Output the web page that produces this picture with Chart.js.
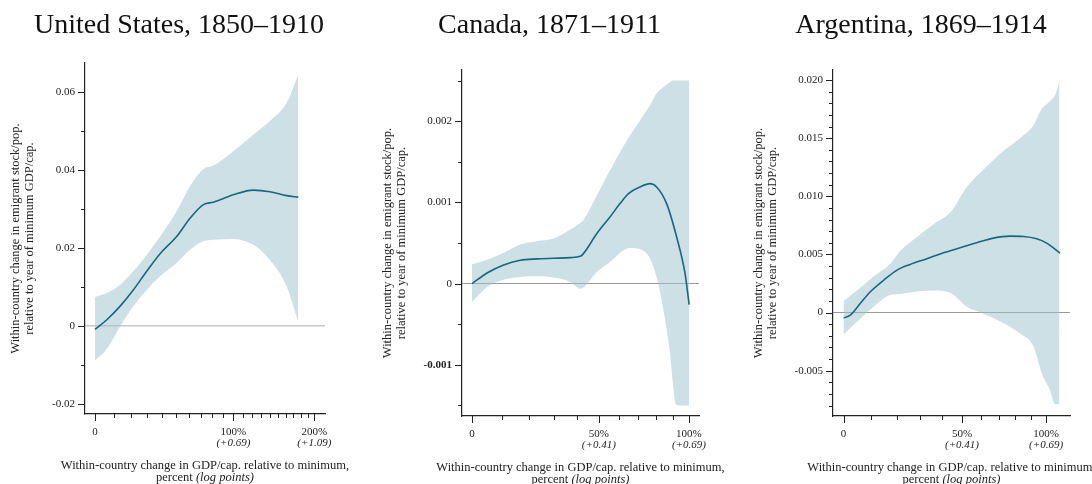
<!DOCTYPE html>
<html>
<head>
<meta charset="utf-8">
<title>Emigrant stock and GDP per capita</title>
<script src="https://cdn.jsdelivr.net/npm/chart.js@4.4.1/dist/chart.umd.min.js"></script>
<style>
  html, body { margin: 0; padding: 0; background: #fff; }
  body { width: 1092px; height: 484px; position: relative; overflow: hidden; }
  .panel { position: absolute; top: 0; height: 484px; }
</style>
</head>
<body>
<div class="panel" style="left:0px;width:358px"><canvas id="usChart"></canvas></div>
<div class="panel" style="left:367px;width:365px"><canvas id="caChart"></canvas></div>
<div class="panel" style="left:750px;width:342px"><canvas id="arChart"></canvas></div>
<script>
const serif = "'Liberation Serif', 'DejaVu Serif', serif";

// x values are log points, ln(1 + change in GDP/cap.)

// United States, 1850-1910
const usX   = [0, 0.058, 0.125, 0.192, 0.259, 0.326, 0.409, 0.476, 0.543, 0.593, 0.693, 0.793, 0.876, 0.960, 1.018];
const usFit = [-0.0009, 0.0015, 0.0050, 0.0092, 0.0140, 0.0185, 0.0229, 0.0276, 0.0311, 0.0317, 0.0336, 0.0348, 0.0344, 0.0334, 0.0330];
const usHi  = [0.0074, 0.0084, 0.0105, 0.0140, 0.0182, 0.0229, 0.0294, 0.0358, 0.0402, 0.0411, 0.0448, 0.0490, 0.0525, 0.0572, 0.0644];
const usLo  = [-0.0089, -0.0060, -0.0002, 0.0050, 0.0092, 0.0127, 0.0161, 0.0195, 0.0217, 0.0221, 0.0223, 0.0208, 0.0169, 0.0101, 0.0011];

// Canada, 1871-1911
const caX   = [0, 0.048, 0.101, 0.154, 0.207, 0.261, 0.314, 0.346, 0.356, 0.399, 0.441, 0.473, 0.500, 0.537, 0.569, 0.590, 0.622, 0.654, 0.681, 0.694];
const caFit = [0, 0.000131, 0.00023, 0.000287, 0.000304, 0.000312, 0.00032, 0.000336, 0.000369, 0.000616, 0.000821, 0.000985, 0.001108, 0.00119, 0.001231, 0.00119, 0.000985, 0.000574, 0.000123, -0.000259];
const caBandX = [0, 0.048, 0.101, 0.154, 0.207, 0.261, 0.314, 0.346, 0.356, 0.399, 0.441, 0.484, 0.505, 0.537, 0.569, 0.590, 0.612, 0.633, 0.643, 0.652, 0.676, 0.694];
const caHi  = [0.000238, 0.000295, 0.000378, 0.00048, 0.000521, 0.000554, 0.000665, 0.000747, 0.00078, 0.001087, 0.001395, 0.001691, 0.001826, 0.002011, 0.002195, 0.00234, 0.00242, 0.00248, 0.0025, 0.0025, 0.0025, 0.0025];
const caLo  = [-0.000226, -0.000041, 0.000049, 0.000082, 0.00009, 0.000074, 0.00002, -0.000062, -0.000049, 0.000144, 0.000267, 0.00041, 0.000439, 0.000423, 0.00031, 0.00008, -0.00033, -0.00086, -0.00127, -0.00149, -0.0015, -0.0015];

// Argentina, 1869-1914
const arX   = [0, 0.023, 0.057, 0.091, 0.137, 0.182, 0.228, 0.285, 0.342, 0.399, 0.456, 0.513, 0.570, 0.616, 0.661, 0.695, 0.741];
const arFit = [-0.00046, -0.00023, 0.00077, 0.00177, 0.00277, 0.00363, 0.00414, 0.00463, 0.00514, 0.00557, 0.0060, 0.0064, 0.00657, 0.00654, 0.00634, 0.00597, 0.00511];
const arBandX = [0, 0.046, 0.103, 0.160, 0.194, 0.251, 0.308, 0.365, 0.422, 0.479, 0.547, 0.604, 0.650, 0.678, 0.707, 0.724, 0.739];
const arHi  = [0.0010, 0.0019, 0.0031, 0.0042, 0.0053, 0.0065, 0.0076, 0.0086, 0.0108, 0.0123, 0.0139, 0.0150, 0.0161, 0.0175, 0.0182, 0.0187, 0.0199];
const arLo  = [-0.0019, -0.0008, 0.0005, 0.0015, 0.0016, 0.0018, 0.0019, 0.0017, 0.0005, -0.0001, -0.0009, -0.0018, -0.0029, -0.0052, -0.0067, -0.0079, -0.0079];

// tick marks (x in percent change) and labels
const usXPct    = [0, 10, 20, 30, 40, 50, 60, 70, 80, 90, 100, 110, 120, 130, 140, 150, 160, 170, 180, 190, 200];
const usXMajor  = [0, 100, 200];
const usXLabels = ['0', '100%', '200%'];
const usXSub    = ['', '(+0.69)', '(+1.09)'];
const shortXPct    = [0, 10, 20, 30, 40, 50, 60, 70, 80, 90, 100];
const shortXMajor  = [0, 50, 100];
const shortXLabels = ['0', '50%', '100%'];
const shortXSub    = ['', '(+0.41)', '(+0.69)'];

const usYTicks  = [-0.02, -0.01, 0, 0.01, 0.02, 0.03, 0.04, 0.05, 0.06];
const usYMajor  = [-0.02, 0, 0.02, 0.04, 0.06];
const usYLabels = ['-0.02', '0', '0.02', '0.04', '0.06'];
const caYTicks  = [-0.0015, -0.001, -0.0005, 0, 0.0005, 0.001, 0.0015, 0.002, 0.0025];
const caYMajor  = [-0.001, 0, 0.001, 0.002];
const caYLabels = ['-0.001', '0', '0.001', '0.002'];
const arYTicks  = [-0.008, -0.007, -0.006, -0.005, -0.004, -0.003, -0.002, -0.001, 0, 0.001, 0.002, 0.003, 0.004,
                   0.005, 0.006, 0.007, 0.008, 0.009, 0.010, 0.011, 0.012, 0.013, 0.014, 0.015, 0.016, 0.017, 0.018, 0.019, 0.020];
const arYMajor  = [-0.005, 0, 0.005, 0.010, 0.015, 0.020];
const arYLabels = ['-0.005', '0', '0.005', '0.010', '0.015', '0.020'];

const yTitle = ['Within-country change in emigrant stock/pop.', 'relative to year of minimum GDP/cap.'];
const xTitle = 'Within-country change in GDP/cap. relative to minimum,';

const teal = '#17677f';
const bandColor = 'rgba(155, 193, 205, 0.5)';
const ink = '#222';

const pts = (xs, ys) => xs.map((x, i) => ({ x: x, y: ys[i] }));
const logPt = p => Math.log(1 + p / 100);

function decor(o) {
  return {
    id: 'decor',
    afterDraw(chart) {
      const { ctx, chartArea: a, scales: { x, y } } = chart;
      ctx.save();

      // panel title
      ctx.fillStyle = '#111';
      ctx.textAlign = 'center';
      ctx.textBaseline = 'alphabetic';
      ctx.font = '28px ' + serif;
      ctx.fillText(o.title, o.titleX, 33);

      ctx.strokeStyle = ink;
      ctx.lineWidth = 1;
      ctx.beginPath();
      o.xPct.forEach(p => {
        const px = Math.round(x.getPixelForValue(logPt(p))) + 0.5;
        const len = o.xMajor.includes(p) ? 7 : 4;
        ctx.moveTo(px, a.bottom);
        ctx.lineTo(px, a.bottom + len);
      });
      o.yTicks.forEach(v => {
        const py = Math.round(y.getPixelForValue(v)) + 0.5;
        const len = o.yMajor.includes(v) ? 7 : 4;
        ctx.moveTo(a.left, py);
        ctx.lineTo(a.left - len, py);
      });
      ctx.stroke();

      ctx.fillStyle = ink;
      ctx.textAlign = 'center';
      ctx.textBaseline = 'middle';
      ctx.font = 'italic 11px ' + serif;
      o.xMajor.forEach((p, i) => {
        if (o.xSub[i]) ctx.fillText(o.xSub[i], x.getPixelForValue(logPt(p)), a.bottom + 29);
      });

      // axis title, second line has an italic part
      const cx = (a.left + a.right) / 2;
      ctx.font = '12.5px ' + serif;
      ctx.fillText(xTitle, cx, a.bottom + 52);
      const reg = 'percent ', ital = '(log points)';
      const w1 = ctx.measureText(reg).width;
      ctx.font = 'italic 12.5px ' + serif;
      const w2 = ctx.measureText(ital).width;
      const x0 = cx - (w1 + w2) / 2;
      ctx.textAlign = 'left';
      ctx.fillText(ital, x0 + w1, a.bottom + 64);
      ctx.font = '12.5px ' + serif;
      ctx.fillText(reg, x0, a.bottom + 64);
      ctx.restore();
    }
  };
}

function panel(id, o) {
  new Chart(document.getElementById(id), {
    type: 'line',
    data: {
      datasets: [
        { data: pts(o.lineX, o.fit), borderColor: teal, borderWidth: 1.6, pointRadius: 0, fill: false, cubicInterpolationMode: 'monotone' },
        { data: pts(o.bandX, o.hi), borderColor: 'rgba(0,0,0,0)', borderWidth: 0, pointRadius: 0, fill: '+1', backgroundColor: bandColor, cubicInterpolationMode: 'monotone' },
        { data: pts(o.bandX, o.lo), borderColor: 'rgba(0,0,0,0)', borderWidth: 0, pointRadius: 0, fill: false, cubicInterpolationMode: 'monotone' }
      ]
    },
    options: {
      responsive: true,
      maintainAspectRatio: false,
      animation: false,
      events: [],
      layout: { padding: { left: 0, right: o.padRight, top: o.top, bottom: 0 } },
      plugins: {
        legend: { display: false },
        tooltip: { enabled: false }
      },
      scales: {
        x: {
          type: 'linear',
          min: o.xMin,
          max: o.xMax,
          afterBuildTicks: s => { s.ticks = o.xPct.map(p => ({ value: logPt(p) })); },
          afterFit: s => { s.height = o.xH; },
          grid: { display: false },
          border: { display: true, color: ink, width: 1.2 },
          ticks: {
            autoSkip: false,
            maxRotation: 0,
            padding: 4,
            color: ink,
            font: { family: serif, size: 11 },
            callback: (v, i) => {
              const k = o.xMajor.indexOf(o.xPct[i]);
              return k >= 0 ? o.xLabels[k] : '';
            }
          }
        },
        y: {
          type: 'linear',
          min: o.yMin,
          max: o.yMax,
          afterBuildTicks: s => { s.ticks = o.yTicks.map(v => ({ value: v })); },
          afterFit: s => { s.width = o.yW; },
          grid: {
            drawTicks: false,
            color: c => (c.tick && c.tick.value === 0 ? o.zeroColor : 'rgba(0,0,0,0)'),
            lineWidth: o.zeroWidth
          },
          border: { display: true, color: ink, width: 1.2 },
          ticks: {
            autoSkip: false,
            padding: 10,
            color: ink,
            font: c => ({ family: serif, size: 11, weight: (c.tick && o.yBold.includes(c.tick.value)) ? 'bold' : 'normal' }),
            callback: v => {
              const k = o.yMajor.indexOf(v);
              return k >= 0 ? o.yLabels[k] : '';
            }
          },
          title: {
            display: true,
            text: yTitle,
            color: ink,
            font: { family: serif, size: 12.5, lineHeight: 1.12 },
            padding: { top: o.yTitlePad, bottom: 0 }
          }
        }
      }
    },
    plugins: [decor(o)]
  });
}

panel('usChart', {
  title: 'United States, 1850–1910', titleX: 179,
  lineX: usX, fit: usFit, bandX: usX, hi: usHi, lo: usLo,
  xMin: -0.05, xMax: 1.152, yMin: -0.0226, yMax: 0.0674,
  xPct: usXPct, xMajor: usXMajor, xLabels: usXLabels, xSub: usXSub,
  yTicks: usYTicks, yMajor: usYMajor, yLabels: usYLabels, yBold: [],
  yW: 85, xH: 70, padRight: 33, top: 63, yTitlePad: 9,
  zeroColor: '#c8c8c8', zeroWidth: 1.6
});

panel('caChart', {
  title: 'Canada, 1871–1911', titleX: 182.5,
  lineX: caX, fit: caFit, bandX: caBandX, hi: caHi, lo: caLo,
  xMin: -0.032, xMax: 0.7255, yMin: -0.00163, yMax: 0.00263,
  xPct: shortXPct, xMajor: shortXMajor, xLabels: shortXLabels, xSub: shortXSub,
  yTicks: caYTicks, yMajor: caYMajor, yLabels: caYLabels, yBold: [-0.001],
  yW: 95, xH: 68, padRight: 33, top: 70, yTitlePad: 14,
  zeroColor: '#9a9a9a', zeroWidth: 1
});

panel('arChart', {
  title: 'Argentina, 1869–1914', titleX: 171,
  lineX: arX, fit: arFit, bandX: arBandX, hi: arHi, lo: arLo,
  xMin: -0.036, xMax: 0.775, yMin: -0.0089, yMax: 0.02086,
  xPct: shortXPct, xMajor: shortXMajor, xLabels: shortXLabels, xSub: shortXSub,
  yTicks: arYTicks, yMajor: arYMajor, yLabels: arYLabels, yBold: [],
  yW: 83, xH: 68, padRight: 22, top: 70, yTitlePad: 2,
  zeroColor: '#9a9a9a', zeroWidth: 1
});
</script>
</body>
</html>
